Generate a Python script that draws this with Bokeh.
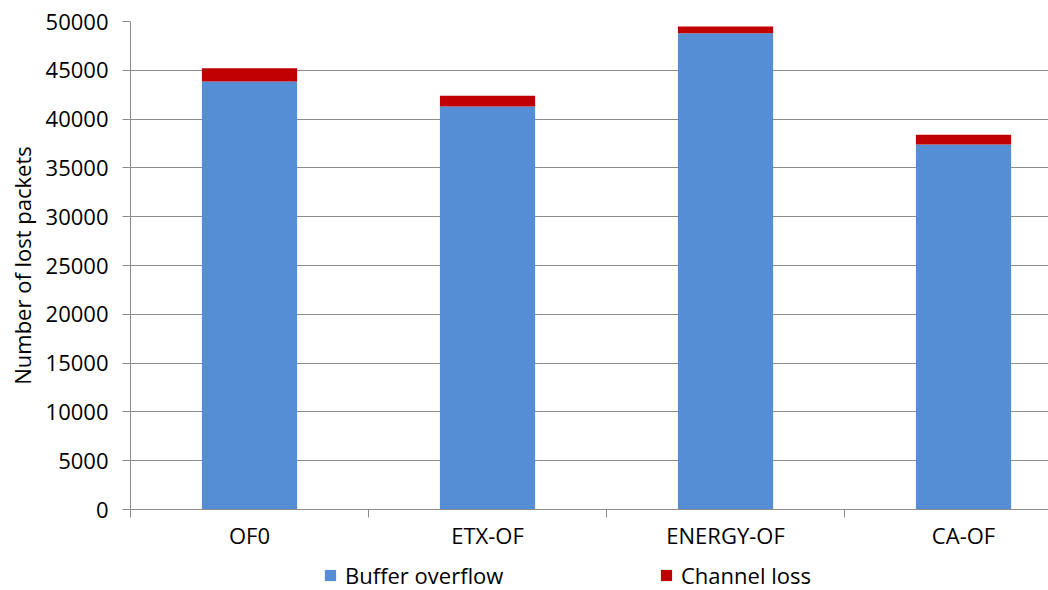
from bokeh.plotting import figure
from bokeh.layouts import column
from bokeh.models import Range1d, FixedTicker, Legend, LegendItem, ColumnDataSource
from bokeh.embed import file_html
from bokeh.resources import INLINE

categories = ["OF0", "ETX-OF", "ENERGY-OF", "CA-OF"]
buffer_overflow = [43850, 41300, 48800, 37400]
channel_loss = [1370, 1080, 690, 990]
series_names = ["Buffer overflow", "Channel loss"]
y_ticks = [0, 5000, 10000, 15000, 20000, 25000, 30000, 35000, 40000, 45000, 50000]

FONT = "Open Sans"
FS = "22px"
BLUE = "#558ED5"
RED = "#C00000"
GRID = "#8c8c8c"

xs = [i + 0.5 for i in range(len(categories))]
tops = [b + c for b, c in zip(buffer_overflow, channel_loss)]
src = ColumnDataSource(dict(x=xs, bo=buffer_overflow, top=tops, zero=[0] * len(xs)))

p = figure(width=1048, height=552, x_range=Range1d(0, 3.857), y_range=Range1d(0, 50000),
           output_backend="svg", toolbar_location=None,
           min_border_left=130, min_border_right=0, min_border_top=21, min_border_bottom=43)
p.outline_line_color = None
p.background_fill_color = "white"

p.vbar(x="x", bottom="zero", top="bo", width=0.4, source=src, fill_color=BLUE, line_color=None)
p.vbar(x="x", bottom="bo", top="top", width=0.4, source=src, fill_color=RED, line_color=None)

# grid
p.xgrid.grid_line_color = None
p.ygrid.grid_line_color = GRID
p.ygrid.grid_line_width = 1
p.ygrid.ticker = FixedTicker(ticks=y_ticks)

# y axis
ya = p.yaxis[0]
ya.ticker = FixedTicker(ticks=y_ticks)
ya.axis_line_color = GRID
ya.major_tick_line_color = GRID
ya.major_tick_out = 8
ya.major_tick_in = 0
ya.minor_tick_line_color = None
ya.major_label_standoff = 14
ya.major_label_text_font = FONT
ya.major_label_text_font_size = FS
ya.major_label_text_color = "black"
ya.axis_label = "Number of lost packets"
ya.axis_label_text_font = FONT
ya.axis_label_text_font_size = FS
ya.axis_label_text_font_style = "normal"
ya.axis_label_text_color = "black"
ya.axis_label_standoff = 6

# x axis
xa = p.xaxis[0]
xa.ticker = FixedTicker(ticks=xs, minor_ticks=[float(i) for i in range(len(categories) + 1)])
xa.major_label_overrides = {x: c for x, c in zip(xs, categories)}
xa.axis_line_color = GRID
xa.major_tick_line_color = None
xa.major_tick_out = 0
xa.major_tick_in = 0
xa.minor_tick_line_color = GRID
xa.minor_tick_out = 8
xa.minor_tick_in = 0
xa.major_label_standoff = 2
xa.major_label_text_font = FONT
xa.major_label_text_font_size = FS
xa.major_label_text_color = "black"

# legend strip below the chart (its bars lie outside its visible ranges)
q = figure(width=1048, height=38, x_range=Range1d(-11, -10), y_range=Range1d(-2, -1),
           output_backend="svg", toolbar_location=None,
           min_border_left=130, min_border_right=0, min_border_top=0, min_border_bottom=0)
q.axis.visible = False
q.grid.visible = False
q.outline_line_color = None
g1 = q.vbar(x="x", bottom="zero", top="bo", width=0.4, source=src, fill_color=BLUE, line_color=None)
g2 = q.vbar(x="x", bottom="bo", top="top", width=0.4, source=src, fill_color=RED, line_color=None)

legend = Legend(items=[LegendItem(label=series_names[0], renderers=[g1]),
                       LegendItem(label=series_names[1], renderers=[g2])],
                orientation="horizontal", location=(193, 0),
                border_line_color=None, background_fill_alpha=0,
                padding=0, margin=0, spacing=148,
                glyph_width=14, glyph_height=14, label_standoff=8,
                label_width=166, label_height=20,
                label_text_font=FONT, label_text_font_size=FS, label_text_color="black")
q.add_layout(legend, "center")

open("out.html", "w").write(file_html(column(p, q, spacing=0), INLINE))
